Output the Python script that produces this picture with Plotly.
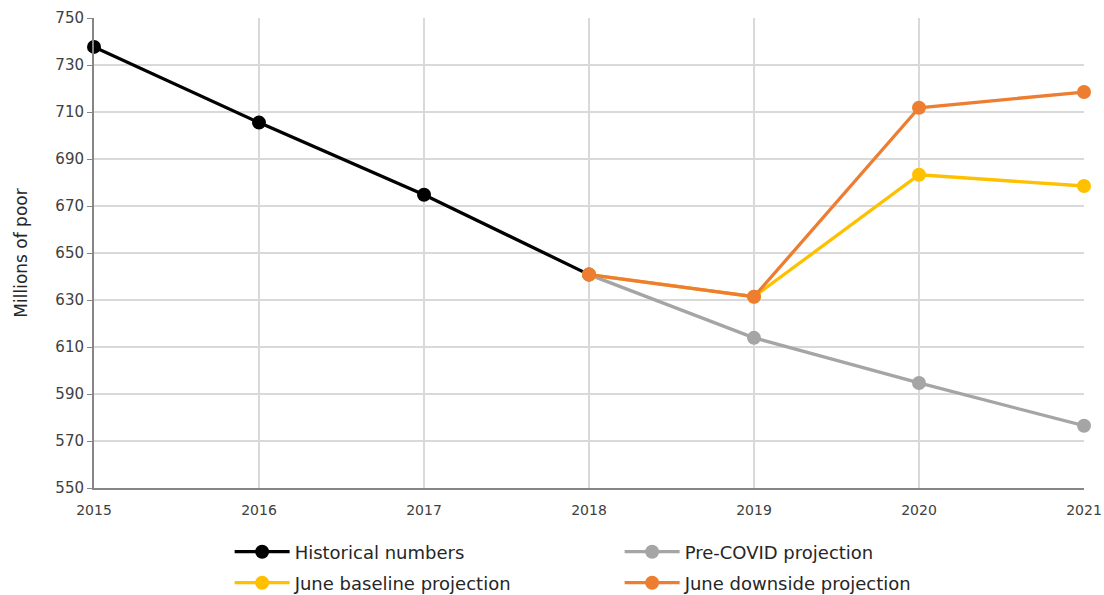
import plotly.graph_objects as go

years_hist = [2015, 2016, 2017, 2018]
hist = [737.7, 705.5, 674.8, 640.8]

years_proj = [2018, 2019, 2020, 2021]
precovid = [640.8, 613.9, 594.7, 576.5]
june_base = [640.8, 631.4, 683.3, 678.5]
june_down = [640.8, 631.4, 711.8, 718.5]

series = [
    ("Historical numbers", years_hist, hist, "#000000", "legend"),
    ("Pre-COVID projection", years_proj, precovid, "#a5a5a5", "legend"),
    ("June baseline projection", years_proj, june_base, "#ffc000", "legend2"),
    ("June downside projection", years_proj, june_down, "#ed7d31", "legend2"),
]

fig = go.Figure()
for name, xs, ys, color, lg in series:
    fig.add_trace(go.Scatter(
        x=xs, y=ys, name=name, mode="lines+markers",
        line=dict(color=color, width=3.3),
        marker=dict(color=color, size=14),
        cliponaxis=False, legend=lg,
    ))

legend_common = dict(
    orientation="h", xanchor="left", yanchor="top",
    entrywidth=320, entrywidthmode="pixels",
    font=dict(size=18, color="#262626"),
    itemwidth=55, bgcolor="rgba(0,0,0,0)",
)

fig.update_layout(
    width=1104, height=640,
    margin=dict(l=94, r=20, t=18, b=152),
    plot_bgcolor="white", paper_bgcolor="white",
    font=dict(family="DejaVu Sans", color="#404040", size=13),
    showlegend=True,
    legend=dict(x=0.137, y=-0.0968, **legend_common),
    legend2=dict(x=0.137, y=-0.1628, **legend_common),
    xaxis=dict(
        range=[2015, 2021], tickmode="linear", dtick=1, tick0=2015,
        showgrid=True, gridcolor="#d9d9d9", gridwidth=2,
        showline=True, linecolor="#868686", linewidth=2,
        ticks="outside", ticklen=8, tickcolor="rgba(0,0,0,0)",
        tickfont=dict(size=14), zeroline=False, automargin=False,
        ticklabeloverflow="allow",
    ),
    yaxis=dict(
        range=[550, 750], tickmode="linear", dtick=20, tick0=550,
        showgrid=True, gridcolor="#d9d9d9", gridwidth=2,
        showline=True, linecolor="#868686", linewidth=2,
        ticks="outside", ticklen=5, tickcolor="#868686", tickwidth=1,
        tickfont=dict(size=15), zeroline=False, automargin=False,
        title=dict(text="Millions of poor", font=dict(size=17, color="#262626"), standoff=23),
    ),
)

page_fix = (
    "document.documentElement.style.overflow='hidden';"
    "document.body.style.overflow='hidden';"
    "document.body.style.margin='0';"
)
fig.write_html("out.html", post_script=page_fix, config={"displayModeBar": False})
